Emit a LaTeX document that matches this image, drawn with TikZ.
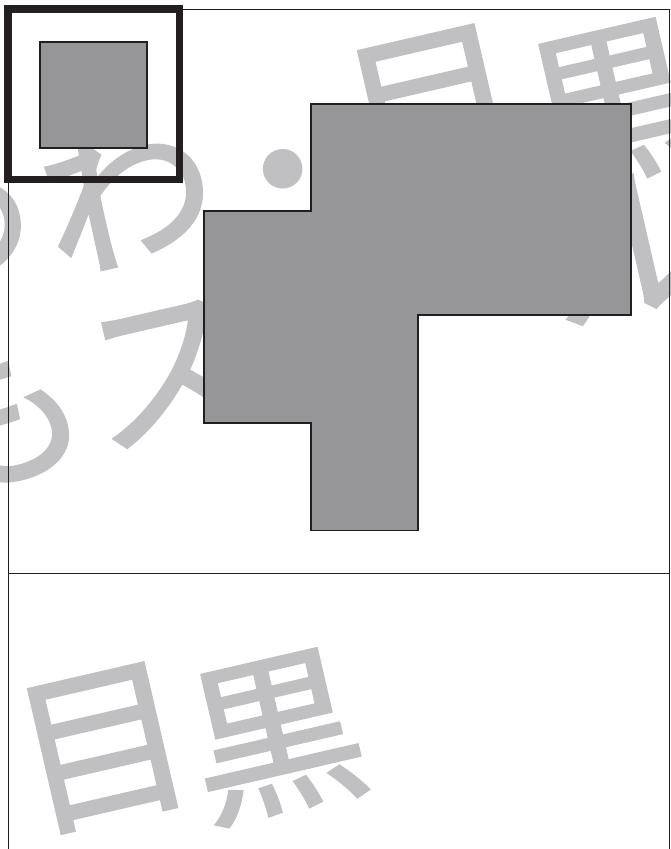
\documentclass[tikz,border=0pt]{standalone}
\usepackage{fontspec}
\newfontfamily\jpfont[FakeBold=1.5]{Noto Sans CJK JP}
\definecolor{linegray}{RGB}{35,31,32}
\definecolor{fillgray}{RGB}{150,150,152}
\definecolor{markgray}{RGB}{192,192,194}
\begin{document}
\begin{tikzpicture}[x=0.2mm,y=-0.2mm,
	wm/.style={text=markgray,inner sep=0pt,rotate=13,font=\jpfont\fontsize{99}{99}\selectfont},
	block/.style={draw=linegray,fill=fillgray,line width=1.1pt},
	frame/.style={draw=linegray,line width=0.6pt}]
	\useasboundingbox (0,0) rectangle (671,849);
	\clip (0,0) rectangle (671,849);
	% watermark
	\node[wm] (a1) at (-55,210) {あ};
	\node[wm] (a2) at (126,190) {わ};
	\node[wm] (a3) at (288,192) {・};
	\node[wm] (a4) at (433,110) {目};
	\node[wm] (a5) at (614,107) {黒};
	\node[wm] (b1) at (-3,410) {も};
	\node[wm] (b2) at (170,373) {ス};
	\node[wm] (b3) at (628,245) {ル};
	\node[wm] (c1) at (103,748) {目};
	\node[wm] (c2) at (276,737) {黒};
	% frame
	\draw[frame] (8.5,849) -- (8.5,9.5) -- (669.5,9.5) -- (669.5,849);
	\draw[frame,line width=0.8pt] (8.5,573.5) -- (669.5,573.5);
	% key
	\draw[draw=linegray,line width=4pt] (8,9) rectangle (179.5,179.5);
	\draw[block] (40.4,41.7) rectangle (147,148.3);
	% floor plan
	\draw[block] (311,104) -- (631,104) -- (631,315) -- (418,315) -- (418,530.5)
		-- (311,530.5) -- (311,423) -- (204,423) -- (204,211) -- (311,211) -- cycle;
\end{tikzpicture}
\end{document}
